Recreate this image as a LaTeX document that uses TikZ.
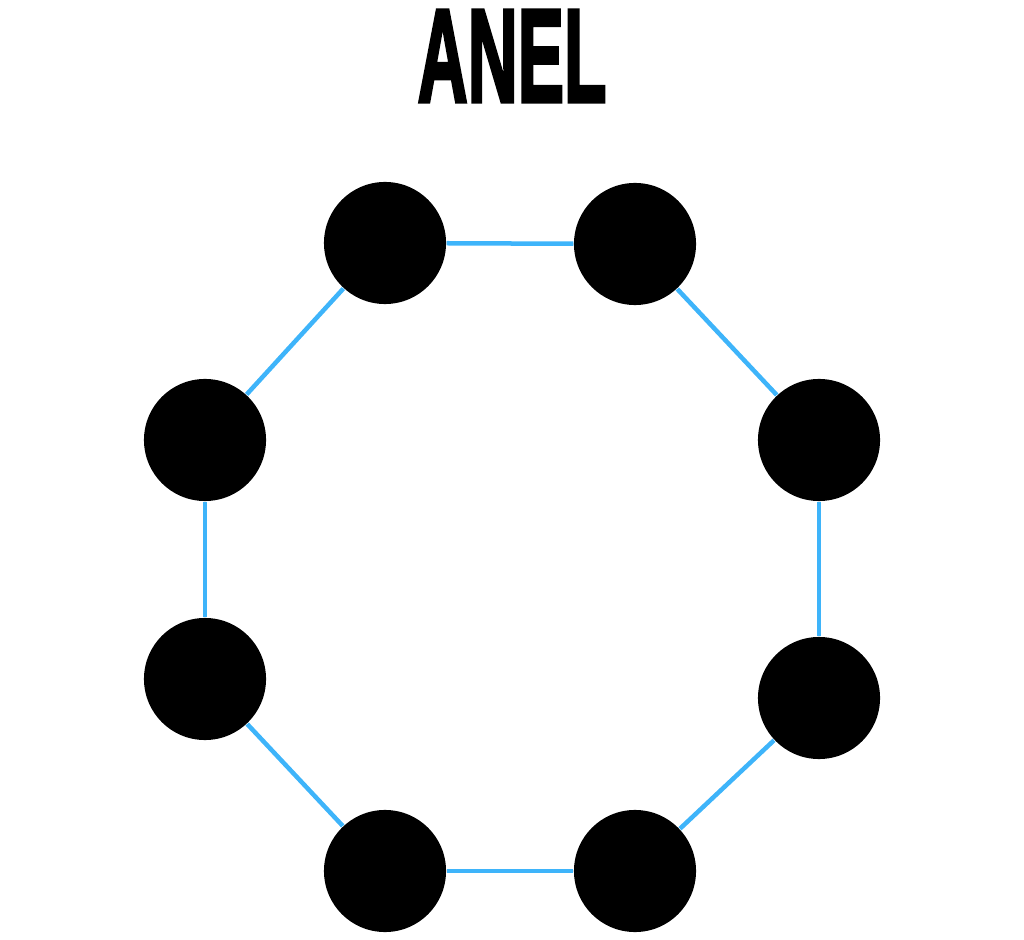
\documentclass[tikz,border=0pt]{standalone}
\usepackage{fontspec}
\setmainfont{Liberation Sans}
\newfontfamily\titlefont[FakeBold=3]{Liberation Sans Bold}
\usepackage{xcolor}
\definecolor{cLink}{RGB}{62, 180, 250}
\definecolor{cNode}{RGB}{0, 0, 0}

\begin{document}
\begin{tikzpicture}[
    x=0.01cm, y=-0.01cm,
    station/.style={
        circle,
        fill=cNode,
        minimum size=1.22cm,
        inner sep=0pt
    },
    link/.style={line width=0.045cm, color=cLink}
]

\useasboundingbox (0,0) rectangle (1024,940);

\node[font=\titlefont, inner sep=0pt, scale=2.9, xscale=0.68, yscale=1.3] (title) at (512, 56) {ANEL};

\node[station] (tl) at (385, 243) {};
\node[station] (tr) at (635, 244) {};
\node[station] (lu) at (205, 440) {};
\node[station] (ru) at (819, 440) {};
\node[station] (ll) at (205, 679) {};
\node[station] (rl) at (819, 698) {};
\node[station] (bl) at (385, 871) {};
\node[station] (br) at (635, 871) {};

\draw[link] (tl) -- (tr);
\draw[link] (tr) -- (ru);
\draw[link] (ru) -- (rl);
\draw[link] (rl) -- (br);
\draw[link] (br) -- (bl);
\draw[link] (bl) -- (ll);
\draw[link] (ll) -- (lu);
\draw[link] (lu) -- (tl);

\end{tikzpicture}
\end{document}
